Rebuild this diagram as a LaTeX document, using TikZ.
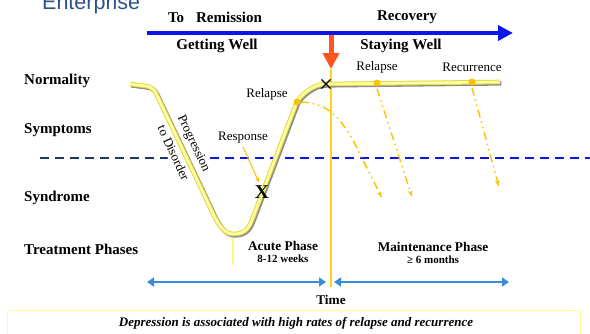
\documentclass[tikz,border=0pt]{standalone}
\usepackage{fontspec}
\setmainfont{Liberation Serif}
\newfontfamily\enterfont{Liberation Sans}
\usetikzlibrary{arrows.meta,positioning,shapes.misc}
\definecolor{barblue}{RGB}{10,20,235}
\definecolor{markorange}{RGB}{255,85,30}
\definecolor{timegold}{RGB}{255,210,20}
\definecolor{dotgold}{RGB}{250,195,0}
\definecolor{phaseblue}{RGB}{55,140,220}
\definecolor{paleyellow}{RGB}{255,255,160}
\definecolor{rimyellow}{RGB}{225,215,70}
\definecolor{navydash}{RGB}{30,55,100}
\definecolor{enterblue}{RGB}{44,82,140}
\tikzset{
  bigword/.style={font=\fontsize{15}{17}\selectfont\bfseries,inner sep=1pt},
  smallword/.style={font=\fontsize{13}{15}\selectfont,inner sep=1pt},
  phaseword/.style={font=\fontsize{13.3}{15}\selectfont\bfseries,inner sep=1pt},
  subword/.style={font=\fontsize{11}{13}\selectfont\bfseries,inner sep=1pt},
  golddot/.style={circle,fill=dotgold,inner sep=0pt,minimum size=7pt},
  fallline/.style={dotgold,line width=1.4pt,
    dash pattern=on 8pt off 4pt on 1.5pt off 4pt on 1.5pt off 4pt,
    -{Stealth[length=7pt,width=4.5pt]}},
  phasearrow/.style={phaseblue,line width=2pt,
    {Triangle[length=7pt,width=9pt]}-{Triangle[length=7pt,width=9pt]}},
  illness/.style={draw=paleyellow,line width=2.6pt,
    preaction={draw=black!45,line width=4.6pt,transform canvas={shift={(1.3pt,-1.3pt)}}},
    preaction={draw=rimyellow,line width=4.6pt}},
}
\begin{document}
\begin{tikzpicture}[x=1pt,y=-1pt]
\useasboundingbox (0,0) rectangle (590,333);
\node[anchor=base west,inner sep=0pt,text=enterblue,
  font=\enterfont\fontsize{21.5}{24}\selectfont](ENTER) at (42,9){Enterprise};
% time axis on top
\coordinate (AXL) at (147,33);
\coordinate (AXR) at (513,33);
\draw[barblue,line width=4pt,-{Triangle[length=15pt,width=15pt]}](AXL)--(AXR);
\node[bigword](REMIT) at (215,17){To\hspace{12pt}Remission};
\node[bigword](RECOV) at (407,17){Recovery};
\node[bigword](GETW) at (217,46){Getting Well};
\node[bigword](STAYW) at (401,46){Staying Well};
% row labels
\node[bigword,anchor=west](NORM) at (23,81){Normality};
\node[bigword,anchor=west](SYMP) at (23,130){Symptoms};
\node[bigword,anchor=west](SYND) at (23,198){Syndrome};
\node[bigword,anchor=west](TREAT) at (23,249){Treatment Phases};
% threshold
\coordinate (THL) at (40,158);
\coordinate (THM) at (165,158);
\coordinate (THR) at (590,158);
\draw[navydash,line width=2pt,dash pattern=on 9pt off 6pt](THL)--(THM);
\draw[barblue,line width=2pt,dash pattern=on 9pt off 6pt](THM)--(THR);
\node[smallword,rotate=-65,fill=white,align=center,inner sep=3pt,
  font=\fontsize{13}{23}\selectfont](PROG) at (184,148){Progression\\to Disorder};
% time line with remission marker
\node[phaseword](TIME) at (331,300){Time};
\coordinate (MTOP) at (331,35);
\coordinate (MTIP) at (331,69);
\draw[timegold,line width=2.5pt](MTIP)--([yshift=7pt]TIME.north);
\draw[markorange,line width=5pt,-{Triangle[length=16pt,width=16pt]}](MTOP)--(MTIP);
% course of the illness
\coordinate (TROUGH) at (233,234);
\draw[paleyellow!80!timegold,line width=1.5pt](TROUGH)--++(0,31);
\draw[illness](130,84)[rounded corners=6pt]--(153,87)--(209,205)[sharp corners]
  ..controls(217,223)and(224,234)..(TROUGH)
  ..controls(242,234)and(248,231)..(252,220)--(296,104)
  ..controls(299,96)and(313,84)..(326,84)--(500,82);
\node[golddot](RELA) at (297,102){};
\node[golddot](RELB) at (377,83){};
\node[golddot](REC) at (472,82){};
\node[cross out,draw,line width=1.1pt,minimum size=8pt,inner sep=0pt](CROSS) at (326,84){};
\node[font=\fontsize{19.5}{20}\selectfont\bfseries,inner sep=0pt](RESP) at (262,192){X};
\node[smallword](RELTXTA) at (267,94){Relapse};
\node[smallword](RESPTXT) at (243,138){Response};
\node[smallword](RELTXTB) at (377,67){Relapse};
\node[smallword](RECTXT) at (472,67){Recurrence};
\draw[dotgold,line width=1pt,-{Stealth[length=5pt,width=4pt]}]
  ([yshift=-2pt]RESPTXT.south)--([xshift=-3pt,yshift=3pt]RESP.north);
% falling back
\coordinate (FALLA) at (382,198);
\coordinate (FALLB) at (412,197);
\coordinate (FALLC) at (499,187);
\draw[fallline](RELA.east)..controls(322,103)and(335,110)..(352,138)--(FALLA);
\draw[fallline]([yshift=-2pt]RELB.south)--(FALLB);
\draw[fallline]([yshift=-2pt]REC.south)--(FALLC);
% phases
\node[phaseword](ACUTE) at (283,246){Acute Phase};
\node[subword,below=2pt of ACUTE](WEEKS){8-12 weeks};
\node[phaseword](MAINT) at (433,247){Maintenance Phase};
\node[subword,below=2pt of MAINT](MONTHS){≥ 6 months};
\coordinate (PHL) at (147,282);
\coordinate (PHM) at (326,282);
\coordinate (PHN) at (334,282);
\coordinate (PHR) at (509,282);
\draw[phasearrow](PHL)--(PHM);
\draw[phasearrow](PHN)--(PHR);
% message
\draw[paleyellow,line width=1pt](7,345)--(7,310)--(580,310)--(580,345);
\node[font=\fontsize{13}{15}\selectfont\bfseries\itshape](NOTE) at (296,323)
  {Depression is associated with high rates of relapse and recurrence};
\end{tikzpicture}
\end{document}
